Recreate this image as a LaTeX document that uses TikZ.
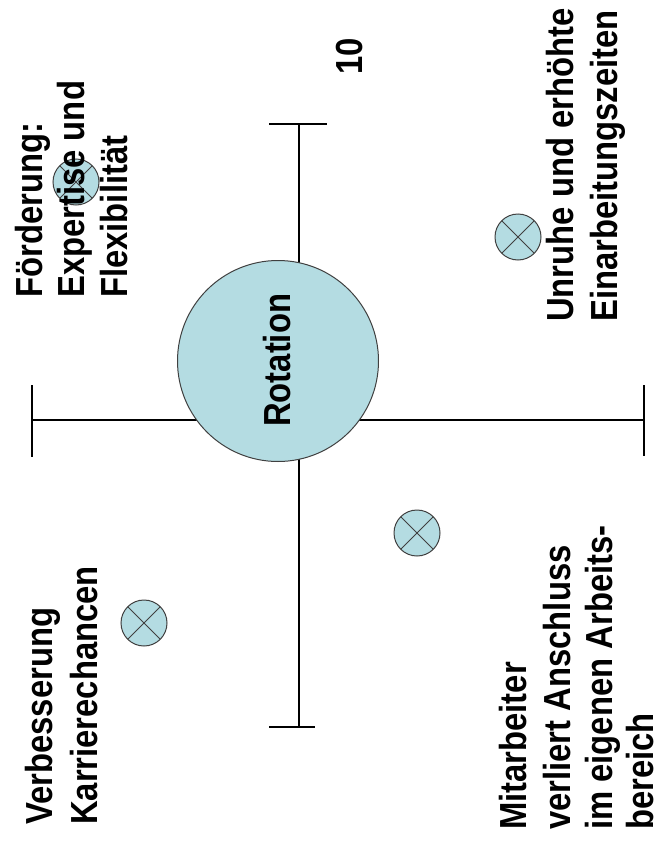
\documentclass[tikz,border=0pt]{standalone}
\usepackage{fontspec}
\setmainfont{Liberation Sans}[FakeStretch=0.87]
\begin{document}
\begin{tikzpicture}[x=1pt,y=-1pt,
  axisline/.style={line width=1.8pt,black},
  bubble/.style={circle,draw=black!75,line width=1pt,fill=bubblefill,inner sep=0pt},
  marker/.style={bubble,minimum size=46pt,path picture={
      \draw[black!75,line width=1pt]
        (path picture bounding box.north west) -- (path picture bounding box.south east)
        (path picture bounding box.north east) -- (path picture bounding box.south west);}},
  label/.style={rotate=90,anchor=base west,inner sep=0pt,
      font=\fontsize{37.7}{44}\selectfont\bfseries}]
\definecolor{bubblefill}{RGB}{180,220,226}
\useasboundingbox[fill=white] (0,0) rectangle (658,843);

% axes with end ticks
\coordinate (top) at (299,124);
\coordinate (bottom) at (299,727);
\coordinate (left) at (32,420);
\coordinate (right) at (644,420);
\coordinate (tl) at (269,124); \coordinate (tr) at (327,124);
\coordinate (bl) at (269,727); \coordinate (br) at (315,727);
\coordinate (lt) at (32,385); \coordinate (lb) at (32,457);
\coordinate (rt) at (644,385); \coordinate (rb) at (644,456);
\draw[axisline] (top) -- (bottom);
\draw[axisline] (left) -- (right);
\draw[axisline] (tl) -- (tr);
\draw[axisline] (bl) -- (br);
\draw[axisline] (lt) -- (lb);
\draw[axisline] (rt) -- (rb);

% central bubble
\node[bubble,minimum size=201pt] (rot) at (278,361) {};

% markers
\node[marker] (m1) at (76,182) {};
\node[marker] (m2) at (518,237) {};
\node[marker] (m3) at (144,623) {};
\node[marker] (m4) at (417,533) {};

% labels, one node per line, reading upwards
\node[label] (rl) at (290,427) {Rotation};
\node[label] (ten) at (362,75) {10};

\node[label] (a1) at (42,298) {Förderung:};
\node[label] (a2) at (84,298) {Expertise und};
\node[label] (a3) at (127,298) {Flexibilität};

\node[label] (b1) at (573,322) {Unruhe und erhöhte};
\node[label] (b2) at (617,322) {Einarbeitungszeiten};

\node[label] (c1) at (52,825) {Verbesserung};
\node[label] (c2) at (97,825) {Karrierechancen};

\node[label] (d1) at (526,830) {Mitarbeiter};
\node[label] (d2) at (570,830) {verliert Anschluss};
\node[label] (d3) at (612,830) {im eigenen Arbeits-};
\node[label] (d4) at (653,830) {bereich};
\end{tikzpicture}
\end{document}
